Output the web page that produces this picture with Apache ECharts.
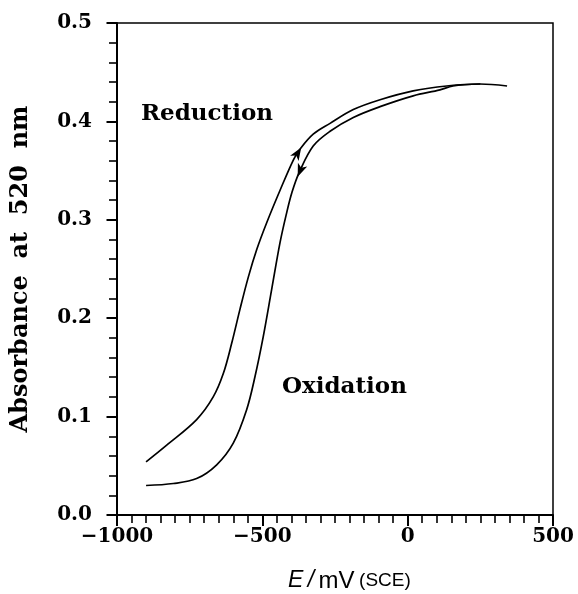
<!DOCTYPE html>
<html>
<head>
<meta charset="utf-8">
<script src="https://cdn.jsdelivr.net/npm/echarts@6/dist/echarts.min.js"></script>
<style>
html,body{margin:0;padding:0;background:#fff;}
#chart{width:578px;height:594px;}
</style>
</head>
<body>
<div id="chart"></div>
<script>
// Potential (mV vs SCE) and absorbance at 520 nm
const reductionE = [-900, -829, -726, -669, -634, -605, -577, -548, -519, -485, -439, -393, -370, -325, -267, -187, -95, 19, 134, 249, 342];
const reductionA = [0.054, 0.071, 0.097, 0.120, 0.144, 0.175, 0.209, 0.242, 0.270, 0.297, 0.330, 0.361, 0.372, 0.387, 0.398, 0.412, 0.422, 0.431, 0.436, 0.438, 0.436];

const oxidationE = [250, 156, 111, 19, -95, -187, -267, -325, -372, -398, -418, -439, -468, -497, -525, -554, -600, -657, -726, -806, -900];
const oxidationA = [0.438, 0.436, 0.432, 0.426, 0.415, 0.404, 0.390, 0.375, 0.349, 0.328, 0.305, 0.277, 0.229, 0.181, 0.141, 0.107, 0.073, 0.051, 0.037, 0.032, 0.030];

// arrow positions [E, A] on the curves
const arrowUp = [-378, 0.368];
const arrowDown = [-370, 0.350];

const xTicks = [-1000, -500, 0, 500];
const yTicks = [0.0, 0.1, 0.2, 0.3, 0.4, 0.5];

const zip = (xs, ys) => xs.map((x, i) => [x, ys[i]]);

const serif = 'DejaVu Serif';
const arrowPath = 'path://M0,0 L5,13 L0,9.5 L-5,13 Z';

const chart = echarts.init(document.getElementById('chart'), null, {renderer: 'canvas'});
chart.setOption({
  animation: false,
  backgroundColor: '#fff',
  grid: {left: 117, right: 25, top: 23, bottom: 79, show: true, borderColor: '#000', borderWidth: 1.5,
         containLabel: false, outerBoundsMode: 'none'},
  xAxis: {
    type: 'value',
    min: xTicks[0], max: xTicks[xTicks.length - 1], interval: 500,
    axisLine: {show: true, onZero: false, lineStyle: {color: '#000', width: 2}},
    axisTick: {show: true, length: 11, lineStyle: {color: '#000', width: 2}},
    minorTick: {show: true, splitNumber: 10, length: 8, lineStyle: {color: '#000', width: 1.6}},
    splitLine: {show: false},
    axisLabel: {
      margin: 12, color: '#000', fontFamily: serif, fontWeight: 'bold', fontSize: 20,
      formatter: v => (v < 0 ? '\u2212' + Math.abs(v) : String(v))
    }
  },
  yAxis: {
    type: 'value',
    min: yTicks[0], max: yTicks[yTicks.length - 1], interval: 0.1,
    name: 'Absorbance  at  520  nm',
    nameLocation: 'middle', nameRotate: 90, nameGap: 84,
    nameTextStyle: {color: '#000', fontFamily: serif, fontWeight: 'bold', fontSize: 24},
    axisLine: {show: true, onZero: false, lineStyle: {color: '#000', width: 2}},
    axisTick: {show: true, length: 10.5, lineStyle: {color: '#000', width: 2}},
    minorTick: {show: true, splitNumber: 5, length: 8, lineStyle: {color: '#000', width: 1.6}},
    splitLine: {show: false},
    axisLabel: {
      margin: 25, color: '#000', fontFamily: serif, fontWeight: 'bold', fontSize: 20,
      formatter: v => v.toFixed(1)
    }
  },
  series: [
    {
      name: 'Reduction', type: 'line', data: zip(reductionE, reductionA),
      smooth: 0.35, showSymbol: false, lineStyle: {color: '#000', width: 1.7},
      markPoint: {
        symbol: arrowPath, symbolSize: [10, 13], symbolRotate: -32,
        itemStyle: {color: '#000'}, label: {show: false},
        data: [{coord: arrowUp}]
      }
    },
    {
      name: 'Oxidation', type: 'line', data: zip(oxidationE, oxidationA),
      smooth: 0.35, showSymbol: false, lineStyle: {color: '#000', width: 1.7},
      markPoint: {
        symbol: arrowPath, symbolSize: [10, 13], symbolRotate: 158,
        itemStyle: {color: '#000'}, label: {show: false},
        data: [{coord: arrowDown}]
      }
    }
  ],
  graphic: [
    {type: 'text', left: 141, top: 103, style: {text: 'Reduction', fontFamily: serif, fontWeight: 'bold', fontSize: 23, fill: '#000'}},
    {type: 'text', left: 282, top: 376, style: {text: 'Oxidation', fontFamily: serif, fontWeight: 'bold', fontSize: 23, fill: '#000'}},
    {type: 'text', left: 288, top: 569, style: {
      text: '{i|E}{g| }{i|/}{g| }{r|mV}{g| }{s|(SCE)}',
      rich: {
        i: {fontFamily: 'Liberation Sans', fontStyle: 'italic', fontSize: 23, fill: '#000'},
        r: {fontFamily: 'Liberation Sans', fontSize: 24, fill: '#000'},
        g: {fontFamily: 'Liberation Sans', fontSize: 16, fill: '#000'},
        s: {fontFamily: 'Liberation Sans', fontSize: 19, fill: '#000'}
      }
    }}
  ]
});
</script>
</body>
</html>
